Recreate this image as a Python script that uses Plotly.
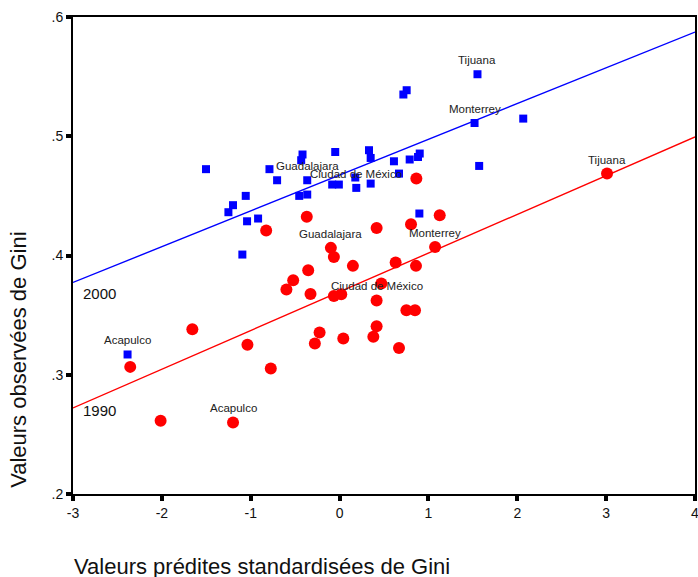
import plotly.graph_objects as go

# 2000 (blue squares)
x2000 = [-2.386, -1.503, -1.251, -1.199, -1.056, -1.041, -1.094, -0.917, -0.789, -0.703,
         -0.432, -0.417, -0.454, -0.364, -0.364, -0.049, -0.083, -0.008, 0.177, 0.188,
         0.331, 0.350, 0.350, 0.612, 0.669, 0.718, 0.755, 0.789, 0.883, 0.902,
         0.898, 1.519, 1.552, 1.571, 2.067]
y2000 = [0.3170, 0.4724, 0.4363, 0.4422, 0.4500, 0.4287, 0.4008, 0.4310, 0.4724, 0.4631,
         0.4799, 0.4847, 0.4500, 0.4511, 0.4631, 0.4868, 0.4595, 0.4595, 0.4654, 0.4567,
         0.4883, 0.4818, 0.4603, 0.4790, 0.4687, 0.5350, 0.5386, 0.4805, 0.4826, 0.4855,
         0.4352, 0.5111, 0.5520, 0.4751, 0.5148]
lab2000 = ["Acapulco", "", "", "", "", "", "", "", "", "",
           "", "", "", "", "Guadalajara", "", "", "", "", "Ciudad de México",
           "", "", "", "", "", "", "", "", "", "",
           "", "Monterrey", "Tijuana", "", ""]

# 1990 (red circles)
x1990 = [-2.356, -2.014, -1.657, -1.199, -1.037, -0.826, -0.774, -0.598, -0.522, -0.369,
         -0.353, -0.327, -0.278, -0.225, -0.098, -0.064, -0.064, 0.019, 0.042, 0.150,
         0.380, 0.417, 0.417, 0.417, 0.470, 0.631, 0.669, 0.752, 0.804, 0.849,
         0.860, 0.864, 1.075, 1.127, 3.010]
y1990 = [0.3066, 0.2614, 0.3382, 0.2600, 0.3251, 0.4210, 0.3053, 0.3715, 0.3793, 0.4324,
         0.3877, 0.3678, 0.3262, 0.3355, 0.4064, 0.3988, 0.3661, 0.3676, 0.3304, 0.3913,
         0.3318, 0.4231, 0.3623, 0.3407, 0.3765, 0.3941, 0.3225, 0.3541, 0.4262, 0.3541,
         0.3913, 0.4646, 0.4072, 0.4338, 0.4687]
lab1990 = ["", "", "", "Acapulco", "", "", "", "", "", "",
           "", "", "", "", "Guadalajara", "", "", "", "", "",
           "", "", "Ciudad de México", "", "", "", "", "", "", "",
           "", "", "Monterrey", "", "Tijuana"]

# fit lines
fit_x = [-3, 4]
fit2000 = [0.3774, 0.5874]
fit1990 = [0.2722, 0.4994]

xticks = [-3, -2, -1, 0, 1, 2, 3, 4]
xticktext = ["-3", "-2", "-1", "0", "1", "2", "3", "4"]
yticks = [0.2, 0.3, 0.4, 0.5, 0.6]
yticktext = [".2", ".3", ".4", ".5", ".6"]

FONT = "Liberation Sans, Arial"

fig = go.Figure()
fig.add_trace(go.Scatter(x=fit_x, y=fit2000, mode="lines",
                         line=dict(color="#0000FF", width=1.4), hoverinfo="skip"))
fig.add_trace(go.Scatter(x=fit_x, y=fit1990, mode="lines",
                         line=dict(color="#FF0000", width=1.4), hoverinfo="skip"))
fig.add_trace(go.Scatter(x=x2000, y=y2000, mode="markers",
                         marker=dict(symbol="square", size=8, color="#0000FF")))
fig.add_trace(go.Scatter(x=x1990, y=y1990, mode="markers",
                         marker=dict(symbol="circle", size=12, color="#FF0000")))

for xs, ys, labs in ((x2000, y2000, lab2000), (x1990, y1990, lab1990)):
    for xv, yv, lb in zip(xs, ys, labs):
        if lb:
            fig.add_annotation(x=xv, y=yv, text=lb, showarrow=False, yshift=14,
                               font=dict(family=FONT, size=11.5, color="#222222"))

fig.add_annotation(x=fit_x[0], y=fit2000[0], text="2000", showarrow=False,
                   xanchor="left", yanchor="middle", xshift=8, yshift=-11,
                   font=dict(family=FONT, size=15, color="#111111"))
fig.add_annotation(x=fit_x[0], y=fit1990[0], text="1990", showarrow=False,
                   xanchor="left", yanchor="middle", xshift=8, yshift=-3,
                   font=dict(family=FONT, size=15, color="#111111"))

fig.update_layout(
    width=698, height=577,
    margin=dict(l=73, r=3, t=17, b=83),
    paper_bgcolor="white", plot_bgcolor="white",
    showlegend=False,
    font=dict(family=FONT, color="#111111"),
)
fig.update_xaxes(range=[-3, 4], tickvals=xticks, ticktext=xticktext, ticks="outside",
                 ticklen=5, tickwidth=4, automargin=False, ticklabeloverflow="allow",
                 tickcolor="black", showline=True, linecolor="black", linewidth=2,
                 mirror=True, showgrid=False, zeroline=False,
                 tickfont=dict(size=14, family=FONT))
fig.update_yaxes(range=[0.2, 0.6], tickvals=yticks, ticktext=yticktext, ticks="outside",
                 ticklen=5, tickwidth=4, automargin=False, tickcolor="black", showline=True,
                 linecolor="black", linewidth=2, mirror=True, showgrid=False, zeroline=False,
                 tickfont=dict(size=14, family=FONT))

fig.add_annotation(xref="paper", yref="paper", x=-0.002, y=-0.153, xanchor="left", yanchor="middle",
                   text="Valeurs prédites standardisées de Gini", showarrow=False,
                   font=dict(size=22, family=FONT, color="#111111"))
fig.add_annotation(xref="paper", yref="paper", x=-0.087, y=0.281, xanchor="center", yanchor="middle",
                   text="Valeurs observées de Gini", showarrow=False, textangle=-90,
                   font=dict(size=22, family=FONT, color="#111111"))

fig.write_html("out.html", config={"displayModeBar": False},
               post_script="document.body.style.margin='0';")
